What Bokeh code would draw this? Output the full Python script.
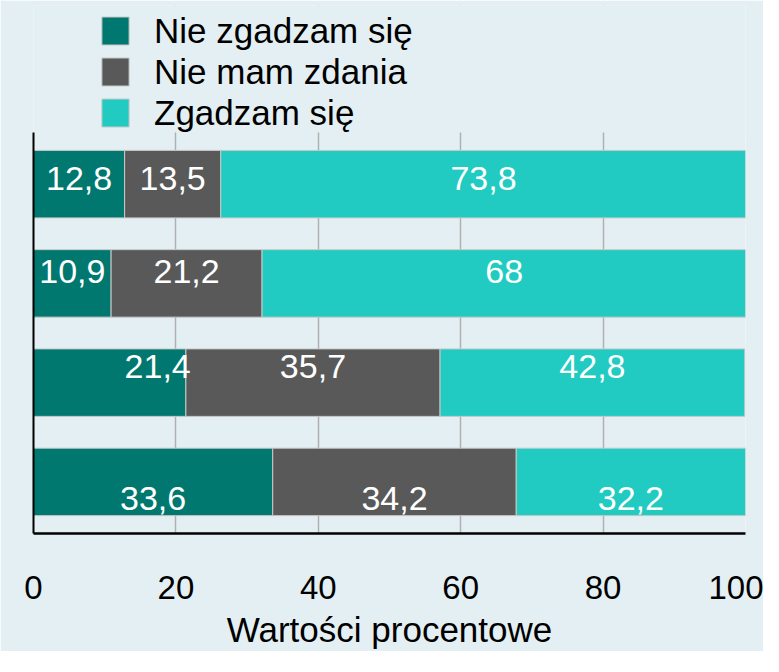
from bokeh.plotting import figure
from bokeh.models import (ColumnDataSource, Range1d, FixedTicker, Legend, LegendItem,
                          BoxAnnotation)
from bokeh.embed import file_html
from bokeh.resources import INLINE
from bokeh.core.properties import value

# ---- data ----
rows = ["1", "2", "3", "4"]          # row categories (labels are cut off in the source image)
disagree = [12.8, 10.9, 21.4, 33.6]
no_opinion = [13.5, 21.2, 35.7, 34.2]
agree = [73.8, 68, 42.8, 32.2]
series_names = ["Nie zgadzam się", "Nie mam zdania", "Zgadzam się"]
x_ticks = [0, 20, 40, 60, 80, 100]
x_title = "Wartości procentowe"

# ---- style / layout ----
colors = ["#00786f", "#595959", "#21cbc1"]
row_label_dy = [-6, -12, -16, 17]   # pixel shift of value labels per row
label_dx = {(2, 0): 48}             # pixel shift of individual value labels (row, series)
FONT = "Liberation Sans"
BG = "#e4eff3"
PAD = 0.52            # padding around the bars (row units)
LEGEND_SPACE = 1.28   # room above the bars for the legend (row units)

keys = ["disagree", "no_opinion", "agree"]
ypos = list(range(len(rows)))   # row index, top to bottom
src = ColumnDataSource(dict(y=ypos, disagree=disagree, no_opinion=no_opinion, agree=agree))

y_top_of_bars = -PAD
y_bottom = len(rows) - 1 + PAD
y_range = Range1d(start=y_bottom, end=y_top_of_bars - LEGEND_SPACE)

p = figure(frame_width=712, frame_height=528, x_range=(0, 100), y_range=y_range,
           output_backend="svg", toolbar_location=None,
           min_border_left=33, min_border_right=18, min_border_top=5, min_border_bottom=0)
p.background_fill_color = BG
p.border_fill_color = BG
p.outline_line_color = None

rends = p.hbar_stack(keys, y="y", height=0.68, color=colors, source=src,
                     line_color="#c9c9c9", line_width=1)

# value labels
lx, ly, lt, ldx, ldy = [], [], [], [], []
for i, yv in enumerate(ypos):
    vals = [disagree[i], no_opinion[i], agree[i]]
    left = 0.0
    for j, v in enumerate(vals):
        lx.append(left + v / 2.0)
        ly.append(yv)
        lt.append(f"{v:g}".replace(".", ","))
        ldx.append(label_dx.get((i, j), 0))
        ldy.append(row_label_dy[i])
        left += v
lsrc = ColumnDataSource(dict(x=lx, y=ly, t=lt, dx=ldx, dy=ldy))
p.text(x="x", y="y", text="t", x_offset="dx", y_offset="dy", source=lsrc, text_align="center",
       text_baseline="middle", text_color="white", text_font=value(FONT),
       text_font_size="34px")

# axes
p.xaxis.ticker = FixedTicker(ticks=x_ticks)
p.xaxis.axis_label = x_title
p.xaxis.axis_label_text_font = FONT
p.xaxis.axis_label_text_font_size = "35px"
p.xaxis.axis_label_text_font_style = "normal"
p.xaxis.axis_label_text_color = "black"
p.xaxis.axis_label_standoff = 8
p.xaxis.major_label_text_font = FONT
p.xaxis.major_label_text_font_size = "33px"
p.xaxis.major_label_text_color = "black"
p.xaxis.major_label_standoff = 36
p.xaxis.major_tick_line_color = None
p.xaxis.minor_tick_line_color = None
p.xaxis.axis_line_color = "black"
p.xaxis.axis_line_width = 2.5

p.yaxis.ticker = FixedTicker(ticks=[])
p.yaxis.major_label_text_font_size = "0px"
p.yaxis.major_tick_line_color = None
p.yaxis.minor_tick_line_color = None
p.yaxis.axis_line_color = "black"
p.yaxis.axis_line_width = 2
p.yaxis.bounds = (y_top_of_bars, y_bottom)

p.xgrid.grid_line_color = "#b0b0b0"
p.xgrid.grid_line_width = 1.5
p.ygrid.grid_line_color = None

# hide the grid in the legend area above the bars
p.add_layout(BoxAnnotation(bottom=y_top_of_bars, top=y_top_of_bars - LEGEND_SPACE,
                           fill_color=BG, fill_alpha=1, line_color=None, level="underlay"))

# legend
lg = Legend(items=[LegendItem(label=n, renderers=[r]) for n, r in zip(series_names, rends)],
            location=(65, 400), orientation="vertical")
lg.background_fill_alpha = 0
lg.border_line_color = None
lg.padding = 0
lg.margin = 0
lg.glyph_width = 34
lg.glyph_height = 35
lg.label_height = 41
lg.spacing = 0
lg.label_standoff = 22
lg.label_text_font = FONT
lg.label_text_font_size = "35px"
lg.label_text_color = "black"
p.add_layout(lg)

open("out.html", "w").write(file_html(p, INLINE))
